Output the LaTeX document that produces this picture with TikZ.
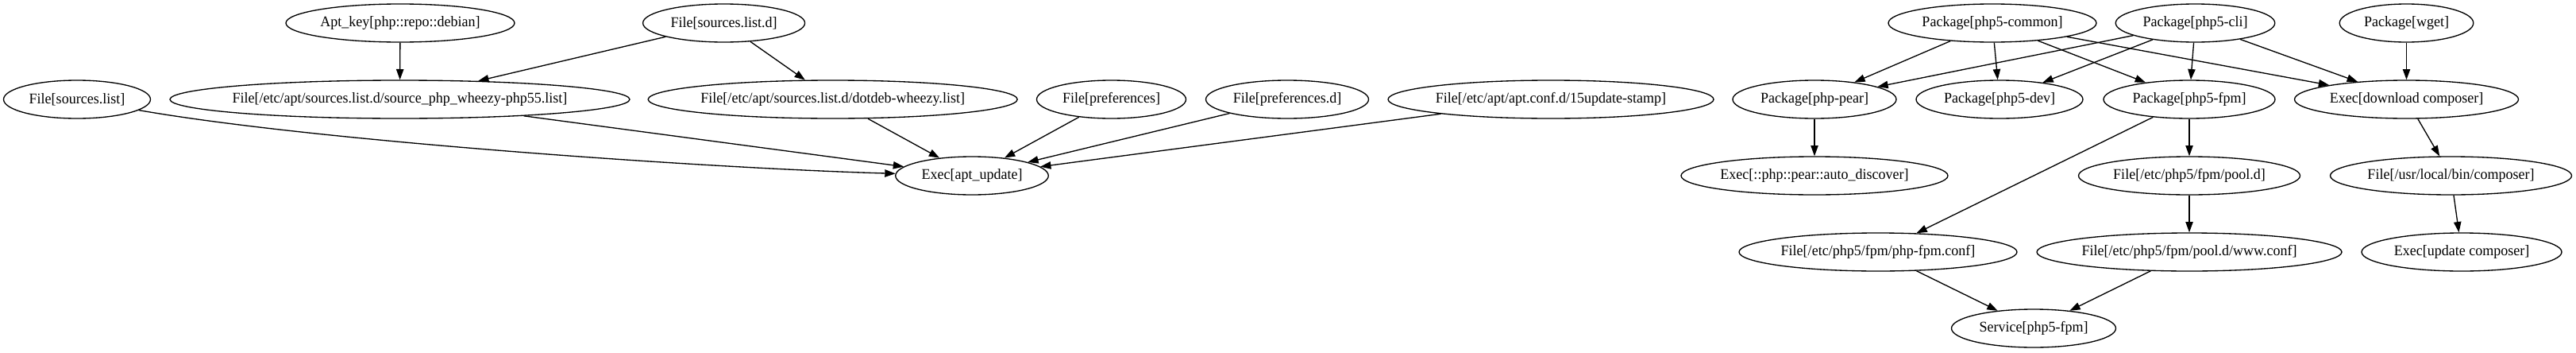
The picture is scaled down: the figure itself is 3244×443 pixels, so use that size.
\documentclass[tikz,border=0pt]{standalone}
\usepackage{fontspec}
\setmainfont{Liberation Serif}[FakeStretch=0.965]
\usetikzlibrary{shapes.geometric,arrows.meta}
\newcommand{\lbl}[1]{\makebox[0pt]{#1}}
\begin{document}
\begin{tikzpicture}[x=0.75pt,y=-0.75pt,
  gn/.style={ellipse,draw,line width=1pt,inner sep=0pt,minimum height=36pt,
             font=\fontsize{14}{16}\selectfont},
  ed/.style={draw,line width=1pt,-{Triangle[length=10pt,width=7pt]}}]
\useasboundingbox[fill=white] (0,0) rectangle (3244,443);
% left cluster
\node[gn,minimum width=138.75pt] (sl)     at (97,125)    {\lbl{File[sources.list]}};
\node[gn,minimum width=434.25pt] (srcphp) at (503.5,125) {\lbl{File[/etc/apt/sources.list.d/source\_php\_wheezy-php55.list]}};
\node[gn,minimum width=216pt]    (aptkey) at (504,29)    {\lbl{Apt\_key[php::repo::debian]}};
\node[gn,minimum width=153pt]    (sld)    at (911.6,29)  {\lbl{File[sources.list.d]}};
\node[gn,minimum width=348.75pt] (dotdeb) at (1048.7,125){\lbl{File[/etc/apt/sources.list.d/dotdeb-wheezy.list]}};
\node[gn,minimum width=141pt]    (pref)   at (1399.5,125){\lbl{File[preferences]}};
\node[gn,minimum width=153.75pt] (prefd)  at (1621,125)  {\lbl{File[preferences.d]}};
\node[gn,minimum width=307.5pt]  (stamp)  at (1953,125)  {\lbl{File[/etc/apt/apt.conf.d/15update-stamp]}};
\node[gn,minimum width=144.4pt]  (aptupd) at (1224,221)  {\lbl{Exec[apt\_update]}};
% right cluster
\node[gn,minimum width=196.5pt]  (common) at (2509,29)   {\lbl{Package[php5-common]}};
\node[gn,minimum width=150.4pt]  (cli)    at (2764.5,29) {\lbl{Package[php5-cli]}};
\node[gn,minimum width=126.4pt]  (wget)   at (3030.5,29) {\lbl{Package[wget]}};
\node[gn,minimum width=154.5pt]  (pear)   at (2285,125)  {\lbl{Package[php-pear]}};
\node[gn,minimum width=157.5pt]  (dev)    at (2518,125)  {\lbl{Package[php5-dev]}};
\node[gn,minimum width=162pt]    (fpm)    at (2757,125)  {\lbl{Package[php5-fpm]}};
\node[gn,minimum width=211.5pt]  (dl)     at (3030.5,125){\lbl{Exec[download composer]}};
\node[gn,minimum width=252pt]    (auto)   at (2285,221)  {\lbl{Exec[::php::pear::auto\_discover]}};
\node[gn,minimum width=209.25pt] (poold)  at (2757,221)  {\lbl{File[/etc/php5/fpm/pool.d]}};
\node[gn,minimum width=228pt]    (bin)    at (3086.5,221){\lbl{File[/usr/local/bin/composer]}};
\node[gn,minimum width=262.5pt]  (fpmconf) at (2365,317) {\lbl{File[/etc/php5/fpm/php-fpm.conf]}};
\node[gn,minimum width=288pt]    (www)    at (2757,317)  {\lbl{File[/etc/php5/fpm/pool.d/www.conf]}};
\node[gn,minimum width=189pt]    (upd)    at (3100,317)  {\lbl{Exec[update composer]}};
\node[gn,minimum width=155.25pt] (svc)    at (2561,413)  {\lbl{Service[php5-fpm]}};
% edges left
\draw[ed] (aptkey) -- (srcphp);
\draw[ed] (sld) -- (srcphp);
\draw[ed] (sld) -- (dotdeb);
\draw[ed] (sl) .. controls (400,178) and (900,212) .. (aptupd);
\draw[ed] (srcphp) -- (aptupd);
\draw[ed] (dotdeb) -- (aptupd);
\draw[ed] (pref) -- (aptupd);
\draw[ed] (prefd) -- (aptupd);
\draw[ed] (stamp) -- (aptupd);
% edges right
\draw[ed] (common) -- (pear);
\draw[ed] (common) -- (dev);
\draw[ed] (common) -- (fpm);
\draw[ed] (common) -- (dl);
\draw[ed] (cli) -- (pear);
\draw[ed] (cli) -- (dev);
\draw[ed] (cli) -- (fpm);
\draw[ed] (cli) -- (dl);
\draw[ed] (wget) -- (dl);
\draw[ed] (pear) -- (auto);
\draw[ed] (fpm) -- (fpmconf);
\draw[ed] (fpm) -- (poold);
\draw[ed] (poold) -- (www);
\draw[ed] (fpmconf) -- (svc);
\draw[ed] (www) -- (svc);
\draw[ed] (dl) -- (bin);
\draw[ed] (bin) -- (upd);
\end{tikzpicture}
\end{document}
